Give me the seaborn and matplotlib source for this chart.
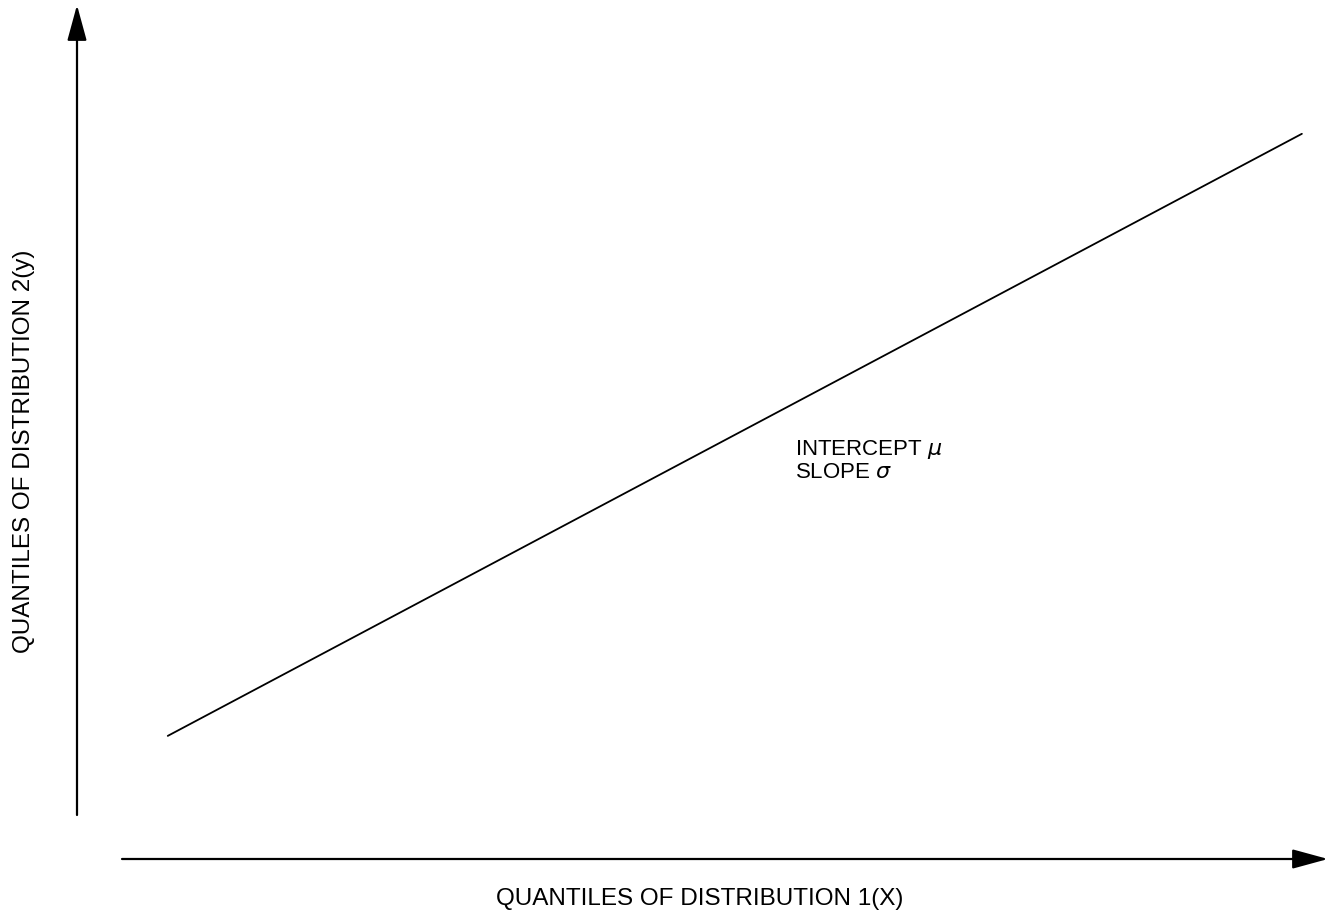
import matplotlib
matplotlib.use("Agg")
import matplotlib.pyplot as plt
import seaborn as sns
import pandas as pd

# quantile line data (arbitrary units)
x_quantiles = [0.87, 11.74]
y_quantiles = [1.73, 10.19]

x_label = "QUANTILES OF DISTRIBUTION 1(X)"
y_label = "QUANTILES OF DISTRIBUTION 2(y)"
notes = ["INTERCEPT $\\mu$", "SLOPE $\\sigma$"]

sns.set_theme(style="white")
plt.rcParams["font.family"] = ["Liberation Sans", "DejaVu Sans"]
plt.rcParams["mathtext.fontset"] = "dejavusans"
plt.rcParams["text.color"] = "black"

df = pd.DataFrame({"x": x_quantiles, "y": y_quantiles})

#create fig
fig = plt.figure(figsize=(13.29, 9.16), dpi=100)
ax = fig.add_axes([77 / 1329, 57 / 916, 1252 / 1329, 854 / 916])
ax.set_xlim(0, 12)
ax.set_ylim(0, 12)

sns.lineplot(data=df, x="x", y="y", ax=ax, color="black", linewidth=1.3)

ax.set_axis_off()

#axis arrows
arrow = dict(arrowstyle="-|>,head_length=1.1,head_width=0.3", mutation_scale=20,
             color="black", lw=1.6, shrinkA=0, shrinkB=0)
fig.add_artist(plt.Annotation("", xy=(77, 911), xytext=(77, 101),
                              xycoords="figure pixels", textcoords="figure pixels",
                              arrowprops=arrow))
fig.add_artist(plt.Annotation("", xy=(1328, 57), xytext=(122, 57),
                              xycoords="figure pixels", textcoords="figure pixels",
                              arrowprops=arrow))

#labels
fig.text(700 / 1329, (916 - 899) / 916, x_label, ha="center", va="center",
         fontsize=17.5, color="black")
fig.text(24 / 1329, (916 - 451) / 916, y_label, ha="center", va="center",
         rotation=90, fontsize=17.5, color="black")

#annotation text
fig.text(795 / 1329, (916 - 455) / 916, notes[0], ha="left", va="baseline",
         fontsize=16, color="black")
fig.text(795 / 1329, (916 - 478) / 916, notes[1], ha="left", va="baseline",
         fontsize=16, color="black")

fig.savefig("out.png", dpi=100)
plt.close(fig)
